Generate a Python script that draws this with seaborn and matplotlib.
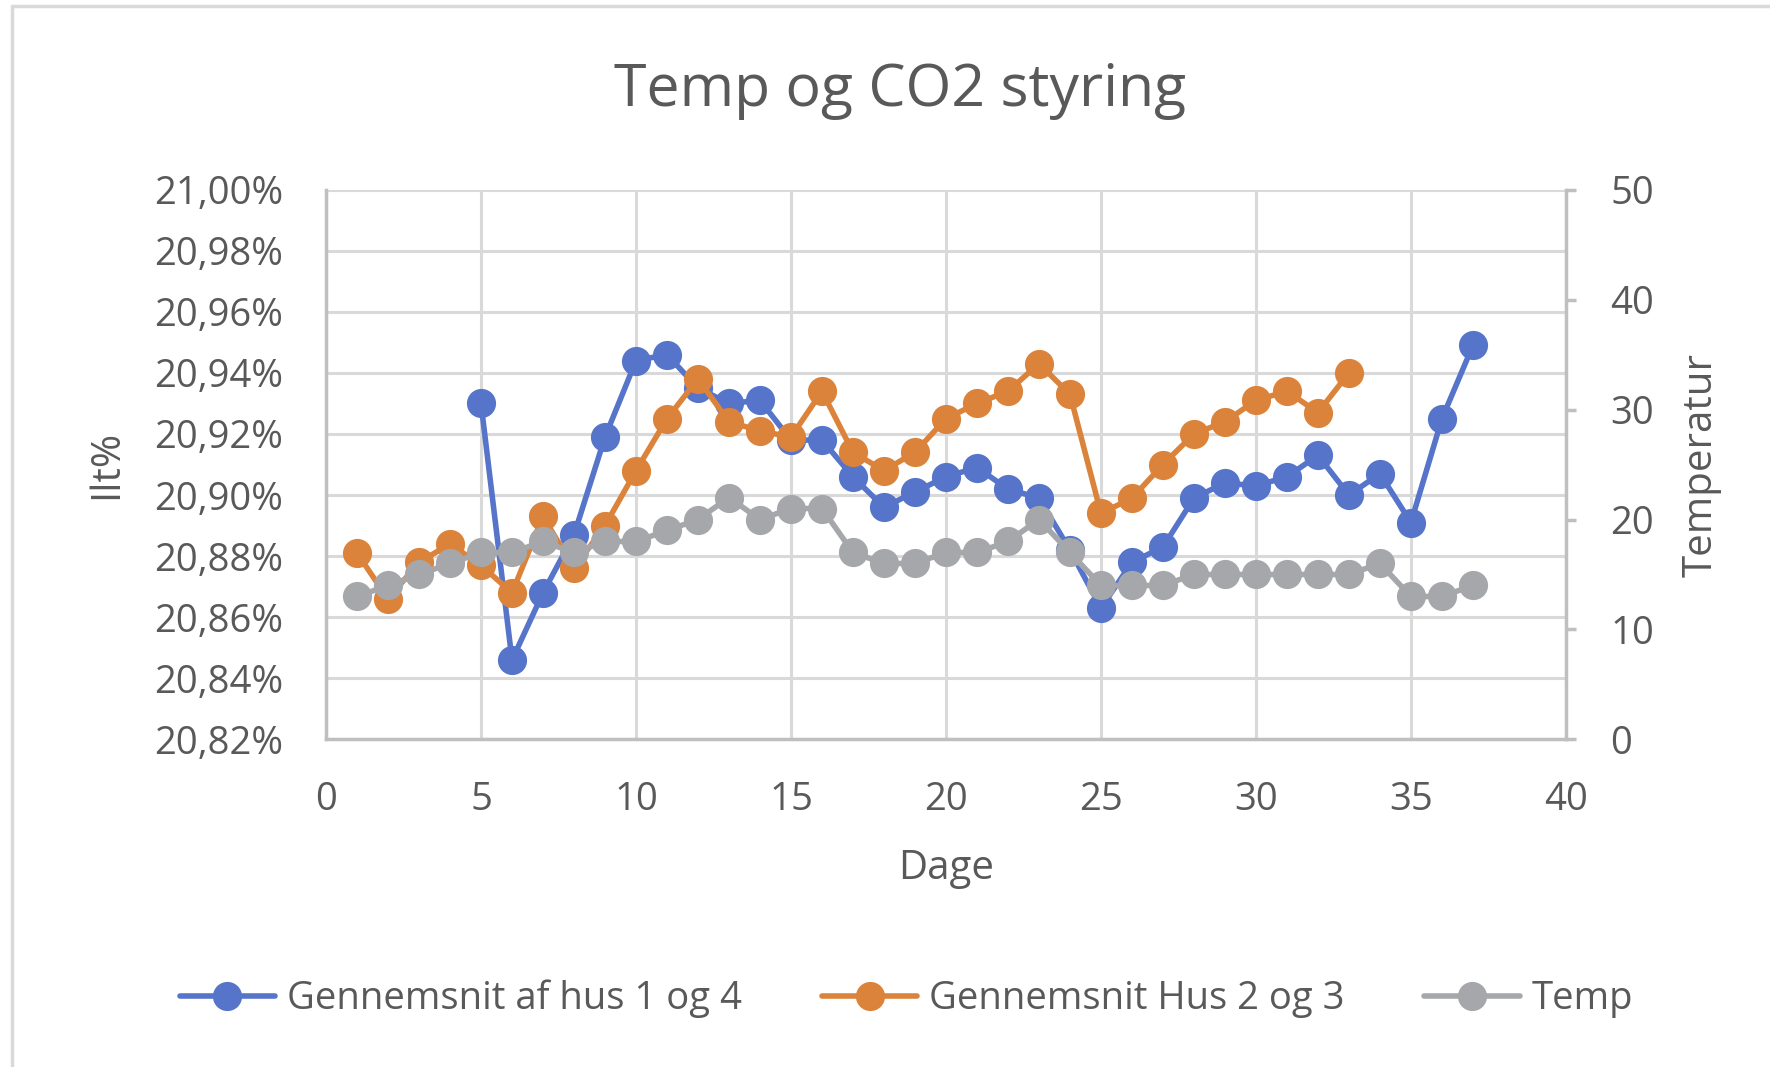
import numpy as np
import pandas as pd
import matplotlib
matplotlib.use("Agg")
import matplotlib.pyplot as plt
from matplotlib.ticker import FuncFormatter, MultipleLocator
from matplotlib.lines import Line2D
import seaborn as sns

# ---- data ----
days_blue = list(range(5, 38))
hus_1_4 = [20.930, 20.846, 20.868, 20.887, 20.919, 20.944, 20.946, 20.935, 20.930, 20.931,
           20.918, 20.918, 20.906, 20.896, 20.901, 20.906, 20.909, 20.902, 20.899, 20.882,
           20.863, 20.878, 20.883, 20.899, 20.904, 20.903, 20.906, 20.913, 20.900, 20.907,
           20.891, 20.925, 20.949]
days_orange = list(range(1, 34))
hus_2_3 = [20.881, 20.866, 20.878, 20.884, 20.877, 20.868, 20.893, 20.876, 20.890, 20.908,
           20.925, 20.938, 20.924, 20.921, 20.919, 20.934, 20.914, 20.908, 20.914, 20.925,
           20.930, 20.934, 20.943, 20.933, 20.894, 20.899, 20.910, 20.920, 20.924, 20.931,
           20.934, 20.927, 20.940]
days_temp = list(range(1, 38))
temp = [13, 14, 15, 16, 17, 17, 18, 17, 18, 18,
        19, 20, 22, 20, 21, 21, 17, 16, 16, 17,
        17, 18, 20, 17, 14, 14, 14, 15, 15, 15,
        15, 15, 15, 16, 13, 13, 14]

labels = ["Gennemsnit af hus 1 og 4", "Gennemsnit Hus 2 og 3", "Temp"]
colors = ["#5574CA", "#DB833B", "#A5A7AA"]

sns.set_theme(style="white")
plt.rcParams['font.family'] = ['Open Sans', 'DejaVu Sans']

TXT = "#595959"
GRID = "#d9d9d9"
SPINE = "#bfbfbf"

fig = plt.figure(figsize=(17.7, 10.67), dpi=100)
ax = fig.add_axes([0.1842, 0.307, 0.8847 - 0.1842, 0.8223 - 0.307])
ax2 = ax.twinx()

lw = 4.0
ms = 21
sns.lineplot(x=days_blue, y=hus_1_4, ax=ax, color=colors[0], marker="o", markersize=ms,
             markeredgewidth=0, linewidth=lw, label=labels[0], legend=False)
sns.lineplot(x=days_orange, y=hus_2_3, ax=ax, color=colors[1], marker="o", markersize=ms,
             markeredgewidth=0, linewidth=lw, label=labels[1], legend=False)
sns.lineplot(x=days_temp, y=temp, ax=ax2, color=colors[2], marker="o", markersize=ms,
             markeredgewidth=0, linewidth=lw, label=labels[2], legend=False)

ax.set_xlim(0, 40)
ax.set_ylim(20.82, 21.00)
ax2.set_ylim(0, 50)
ax.xaxis.set_major_locator(MultipleLocator(5))
ax.yaxis.set_major_locator(MultipleLocator(0.02))
ax2.yaxis.set_major_locator(MultipleLocator(10))
ax.yaxis.set_major_formatter(FuncFormatter(lambda v, p: f"{v:.2f}%".replace('.', ',')))

ax.grid(True, color=GRID, linewidth=2.2)
ax.set_axisbelow(True)

for a in (ax, ax2):
    for s in a.spines.values():
        s.set_visible(False)
ax.spines['left'].set_visible(True)
ax.spines['bottom'].set_visible(True)
ax2.spines['right'].set_visible(True)
for s in (ax.spines['left'], ax.spines['bottom'], ax2.spines['right']):
    s.set_color(SPINE)
    s.set_linewidth(2.5)

ax.tick_params(axis='x', length=0, pad=30, labelsize=27.5, labelcolor=TXT)
ax.tick_params(axis='y', length=0, pad=31, labelsize=27.5, labelcolor=TXT)
ax2.tick_params(axis='y', length=7, width=2.5, color=SPINE, pad=25, labelsize=27.5, labelcolor=TXT)

ax.set_xlabel("Dage", fontsize=29, color=TXT)
ax.set_ylabel("Ilt%", fontsize=29, color=TXT)
ax2.set_ylabel("Temperatur", fontsize=29, color=TXT)
ax.xaxis.set_label_coords(0.5, -0.236)
ax.xaxis.label.set_va('center')
ax.yaxis.set_label_coords(-0.1766, 0.5)
ax.yaxis.label.set_va('center')
ax2.yaxis.set_label_coords(1.109, 0.5)
ax2.yaxis.label.set_va('center')

fig.suptitle("Temp og CO2 styring", x=0.5085, y=0.915, va='center', fontsize=42.5, color=TXT)

handles = [Line2D([], [], color=c, marker='o', markersize=ms, markeredgewidth=0, linewidth=lw)
           for c in colors]
fig.legend(handles, labels, loc='center', bbox_to_anchor=(0.512, 0.064), ncol=3,
           frameon=False, fontsize=27.5, handlelength=2.5, handletextpad=0.3,
           columnspacing=2.1, labelcolor=TXT, numpoints=1)

# chart area border
fig.add_artist(Line2D([0.0068, 0.0068], [0.0, 0.9944], transform=fig.transFigure,
                      color=GRID, linewidth=2.5))
fig.add_artist(Line2D([0.0068, 1.0], [0.9944, 0.9944], transform=fig.transFigure,
                      color=GRID, linewidth=2.5))

fig.savefig("out.png", dpi=100, facecolor="white")
